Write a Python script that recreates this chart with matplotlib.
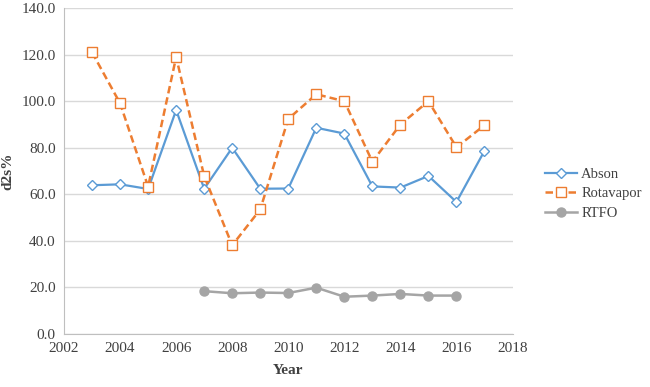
import matplotlib.pyplot as plt

years_abson = [2003, 2004, 2005, 2006, 2007, 2008, 2009, 2010, 2011, 2012, 2013, 2014, 2015, 2016, 2017]
abson = [63.9, 64.3, 62.3, 96.2, 62.4, 80.0, 62.4, 62.5, 88.6, 86.1, 63.4, 62.9, 67.9, 56.7, 78.7]
years_rota = years_abson
rotavapor = [121.0, 99.1, 63.3, 119.0, 67.8, 38.1, 53.5, 92.4, 103.0, 100.0, 74.0, 90.0, 100.0, 80.2, 89.7]
years_rtfo = [2007, 2008, 2009, 2010, 2011, 2012, 2013, 2014, 2015, 2016]
rtfo = [18.4, 17.5, 17.8, 17.6, 19.9, 16.0, 16.5, 17.2, 16.5, 16.5]

plt.rcParams['font.family'] = ['Liberation Serif', 'DejaVu Serif']

fig = plt.figure(figsize=(6.5, 3.87), dpi=100)
ax = fig.add_axes([0.0985, 0.137, 0.69, 0.842])

ax.plot(years_abson, abson, color='#5B9BD5', lw=1.6, marker='D', ms=5,
        mfc='white', mec='#5B9BD5', mew=1.0, label='Abson', zorder=3)
ax.plot(years_rota, rotavapor, color='#ED7D31', lw=1.8, ls=(0, (3, 1.6)), marker='s', ms=7.5,
        mfc='white', mec='#ED7D31', mew=1.0, label='Rotavapor', zorder=3)
ax.plot(years_rtfo, rtfo, color='#A5A5A5', lw=1.8, marker='o', ms=6.5,
        mfc='#A5A5A5', mec='#A5A5A5', label='RTFO', zorder=3)

ax.set_xlim(2002, 2018)
ax.set_ylim(0, 140)
ax.set_xticks(range(2002, 2019, 2))
ax.set_yticks(range(0, 141, 20))
ax.set_yticklabels([f"{v:.1f}" for v in range(0, 141, 20)])
ax.grid(axis='y', color='#D9D9D9', lw=1.0)
ax.set_axisbelow(True)
for s in ['top', 'right']:
    ax.spines[s].set_visible(False)
for s in ['left', 'bottom']:
    ax.spines[s].set_color('#BFBFBF')
ax.tick_params(length=0, labelsize=11, colors='#404040', pad=6)

ax.set_xlabel('Year', fontsize=11, fontweight='bold', color='#404040', labelpad=6)
ax.set_ylabel('d2s%', fontsize=11, fontweight='bold', color='#404040', labelpad=5)

ax.legend(loc='center left', bbox_to_anchor=(1.072, 0.43), frameon=False, fontsize=10.5,
          labelcolor='#404040', handlelength=2.2, handletextpad=0.3, labelspacing=0.45,
          borderpad=0, borderaxespad=0)

fig.savefig('out.png', dpi=100)
